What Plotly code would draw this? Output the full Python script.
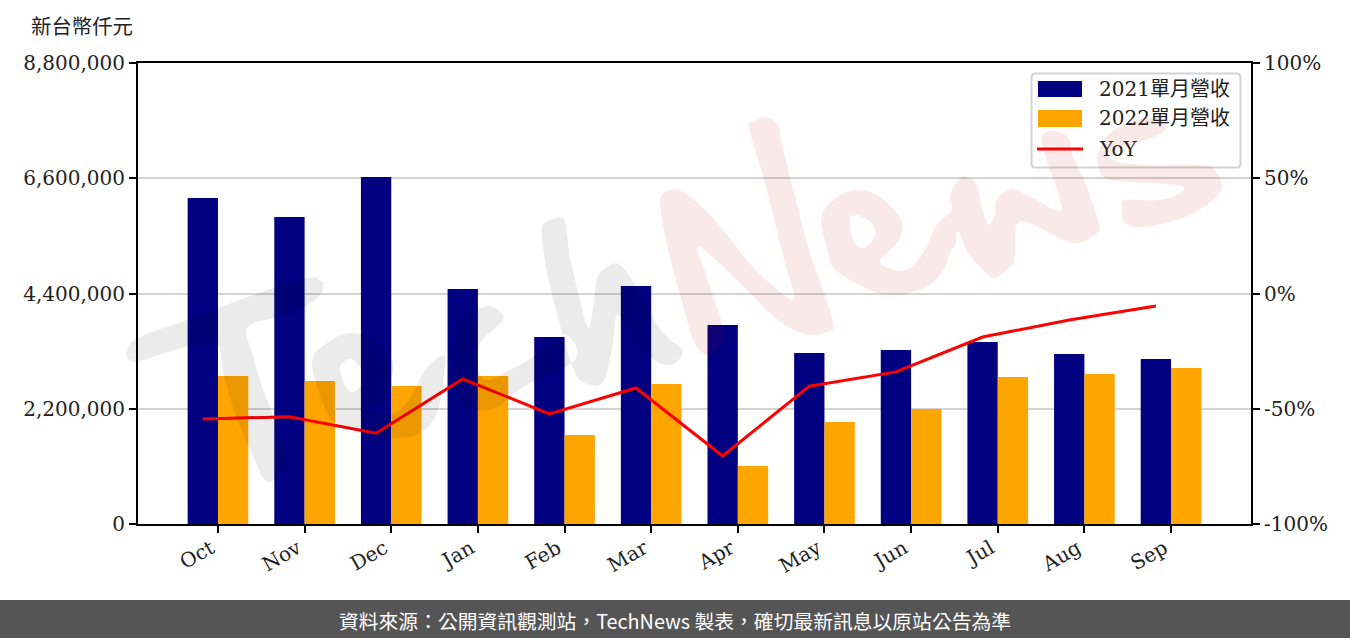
import plotly.graph_objects as go

W, H = 1350, 638
PLOT_L, PLOT_R, PLOT_T, PLOT_B = 138, 1251, 63, 524

months = ['Oct', 'Nov', 'Dec', 'Jan', 'Feb', 'Mar', 'Apr', 'May', 'Jun', 'Jul', 'Aug', 'Sep']
rev_2021 = [6223000, 5860000, 6624000, 4486000, 3570000, 4543000, 3799000, 3264000, 3322000, 3474000, 3245000, 3150000]
rev_2022 = [2825000, 2730000, 2634000, 2825000, 1699000, 2672000, 1107000, 1947000, 2195000, 2806000, 2863000, 2978000]
yoy = [-54.4, -53.5, -60.6, -37.1, -52.2, -41.0, -70.5, -40.2, -34.0, -18.9, -11.5, -5.4]

left_ticks = [0, 2200000, 4400000, 6600000, 8800000]
right_ticks = [-100, -50, 0, 50, 100]
right_labels = ['-100%', '-50%', '0%', '50%', '100%']

SERIF = '"DejaVu Serif", "Noto Sans CJK TC"'
BAR_W = 0.35


def px(x):
    return (x - PLOT_L) / (PLOT_R - PLOT_L)


def py(y):
    return (PLOT_B - y) / (PLOT_B - PLOT_T)


def smooth(points):
    # closed catmull-rom through pixel points, as an svg path in paper coords
    n = len(points)
    out = 'M%.5f,%.5f' % (px(points[0][0]), py(points[0][1]))
    for i in range(n):
        p0, p1, p2, p3 = points[i - 1], points[i], points[(i + 1) % n], points[(i + 2) % n]
        c1 = (p1[0] + (p2[0] - p0[0]) / 6, p1[1] + (p2[1] - p0[1]) / 6)
        c2 = (p2[0] - (p3[0] - p1[0]) / 6, p2[1] - (p3[1] - p1[1]) / 6)
        out += 'C%.5f,%.5f %.5f,%.5f %.5f,%.5f' % (px(c1[0]), py(c1[1]), px(c2[0]), py(c2[1]), px(p2[0]), py(p2[1]))
    return out + 'Z'


def zoomed(points, ox, oy):
    return [(ox + a / 3, oy + b / 3) for a, b in points]


# watermark outlines
wm_T = zoomed([(20, 460), (50, 415), (200, 360), (400, 285), (560, 235), (600, 240), (610, 265), (585, 300), (500, 345),
               (385, 380), (400, 470), (430, 570), (480, 700), (497, 790), (490, 815), (440, 845), (400, 770), (345, 640),
               (310, 520), (290, 430), (200, 440), (60, 482), (30, 480)], 120, 200)
wm_e = [(312, 363), (327, 343), (350, 333), (373, 340), (390, 357), (393, 370), (385, 395), (372, 412), (395, 413), (412, 395),
        (425, 370), (443, 355), (445, 367), (437, 413), (420, 433), (400, 438), (370, 435), (345, 428), (327, 413)]
wm_e_hole = [(345, 385), (353, 392), (362, 383), (360, 367), (350, 359), (340, 367)]
wm_c = [(483, 307), (495, 308), (503, 320), (480, 343), (478, 367), (487, 380), (510, 370), (533, 357), (565, 335), (575, 360),
        (523, 387), (497, 407), (477, 410), (457, 397), (452, 377), (455, 343), (465, 318)]
wm_h = zoomed([(425, 115), (440, 95), (470, 85), (495, 95), (510, 200), (540, 330), (565, 415), (580, 350), (590, 270), (610, 240),
               (650, 220), (690, 260), (750, 370), (800, 440), (848, 480), (825, 520), (780, 520), (720, 470), (655, 375),
               (640, 450), (625, 530), (600, 585), (540, 570), (510, 510), (490, 440), (450, 290), (430, 180)], 400, 190)
wm_N = zoomed([(35, 255), (85, 240), (150, 285), (220, 360), (290, 450), (360, 520), (432, 567), (400, 440), (340, 200), (298, 55),
               (320, 30), (350, 23), (385, 45), (395, 100), (430, 240), (480, 430), (530, 570), (550, 640), (545, 660), (490, 675),
               (430, 660), (360, 610), (280, 530), (148, 410), (170, 500), (220, 660), (195, 725), (160, 730), (130, 690),
               (100, 590), (60, 440), (35, 320)], 650, 110)
wm_ew = (zoomed([(515, 320), (530, 290), (580, 250), (630, 240), (690, 260), (740, 310), (758, 350), (740, 400), (690, 455),
                 (745, 482), (790, 465), (830, 410), (860, 345), (905, 300), (900, 260), (925, 210), (950, 200), (980, 225),
                 (1000, 310), (1018, 345), (1035, 310), (1040, 270)], 650, 110)
         + zoomed([(215, 238), (280, 265), (365, 300), (320, 150), (305, 80), (345, 62), (385, 85), (400, 140), (440, 230),
                   (478, 345), (470, 370), (420, 398), (370, 390), (240, 335), (225, 440), (210, 470), (165, 503), (130, 480),
                   (85, 430), (55, 365), (45, 410)], 940, 110)
         + zoomed([(903, 420), (880, 480), (830, 530), (740, 555), (660, 540), (555, 478), (530, 410), (515, 350)], 650, 110))
wm_ew_hole = zoomed([(612, 395), (640, 413), (675, 380), (665, 340), (625, 316), (600, 330)], 650, 110)
wm_s = zoomed([(445, 340), (470, 290), (530, 250), (600, 232), (640, 245), (645, 270), (600, 295), (520, 320), (480, 345), (500, 365),
               (600, 375), (700, 375), (780, 380), (815, 430), (800, 470), (720, 525), (620, 555), (550, 560), (520, 540),
               (515, 500), (525, 480), (620, 480), (680, 465), (700, 440), (620, 430), (520, 425), (465, 415), (445, 380)], 950, 40)

x_pos = list(range(len(months)))
line_x = [i - BAR_W / 2 for i in x_pos]

fig = go.Figure()
fig.add_trace(go.Bar(name='2021單月營收', x=x_pos, y=rev_2021, marker=dict(color='#000080', line_width=0)))
fig.add_trace(go.Bar(name='2022單月營收', x=x_pos, y=rev_2022, marker=dict(color='#FFA500', line_width=0)))
fig.add_trace(go.Scatter(name='YoY', x=line_x, y=yoy, mode='lines', yaxis='y2', line=dict(color='#FF0000', width=3)))


def paper_rect(x0, y0, x1, y1, **kw):
    return dict(type='rect', xref='paper', yref='paper', x0=px(x0), x1=px(x1), y0=py(y0), y1=py(y1), layer='above', **kw)


shapes = [
    # bottom source band
    paper_rect(0, 600, W, H, fillcolor='#555555', line_width=0),
]

# legend box with rounded corners
bx0, bx1, by0, by1, r = 1031.5, 1240.5, 73.5, 167.5, 4
box = 'M%.5f,%.5f' % (px(bx0 + r), py(by0))
box += 'L%.5f,%.5f' % (px(bx1 - r), py(by0)) + 'Q%.5f,%.5f %.5f,%.5f' % (px(bx1), py(by0), px(bx1), py(by0 + r))
box += 'L%.5f,%.5f' % (px(bx1), py(by1 - r)) + 'Q%.5f,%.5f %.5f,%.5f' % (px(bx1), py(by1), px(bx1 - r), py(by1))
box += 'L%.5f,%.5f' % (px(bx0 + r), py(by1)) + 'Q%.5f,%.5f %.5f,%.5f' % (px(bx0), py(by1), px(bx0), py(by1 - r))
box += 'L%.5f,%.5f' % (px(bx0), py(by0 + r)) + 'Q%.5f,%.5f %.5f,%.5f' % (px(bx0), py(by0), px(bx0 + r), py(by0)) + 'Z'
shapes.append(dict(type='path', xref='paper', yref='paper', path=box, layer='above',
                   fillcolor='rgba(255,255,255,0.8)', line=dict(color='#D3D3D3', width=2)))
shapes.append(paper_rect(1038, 81, 1082, 97, fillcolor='#000080', line_width=0))
shapes.append(paper_rect(1038, 110, 1082, 127, fillcolor='#FFA500', line_width=0))
shapes.append(paper_rect(1037, 147.5, 1083, 150.5, fillcolor='#FF0000', line_width=0))

# watermark sits over the bars
gray_path = ' '.join(smooth(p) for p in [wm_T, wm_e, wm_e_hole, wm_c, wm_h])
pink_path = ' '.join(smooth(p) for p in [wm_N, wm_ew, wm_ew_hole, wm_s])
shapes.append(dict(type='path', xref='paper', yref='paper', path=gray_path, layer='above',
                   fillcolor='rgba(0,0,0,0.08)', line_width=0))
shapes.append(dict(type='path', xref='paper', yref='paper', path=pink_path, layer='above',
                   fillcolor='rgba(195,0,0,0.085)', line_width=0))


def note(text, x, y, size=20, color='#222222', anchor='left', family=SERIF):
    return dict(text=text, xref='paper', yref='paper', x=px(x), y=py(y), xanchor=anchor, yanchor='middle',
                showarrow=False, font=dict(family=family, size=size, color=color))


annotations = [
    note('新台幣仟元', 29, 27, size=20.4),
    note('2021單月營收', 1097, 89),
    note('2022單月營收', 1097, 118),
    note('YoY', 1097, 149),
    note('資料來源：公開資訊觀測站，TechNews 製表，確切最新訊息以原站公告為準', 675, 620, size=19.8, color='#FFFFFF',
         anchor='center', family='"Noto Sans CJK TC"'),
]

axis_common = dict(ticks='outside', ticklen=7, tickwidth=2, tickcolor='#000000', showline=True, linecolor='#000000', linewidth=2,
                   tickfont=dict(family=SERIF, size=20, color='#222222'))

fig.update_layout(
    width=W, height=H,
    margin=dict(l=PLOT_L, r=W - PLOT_R, t=PLOT_T, b=H - PLOT_B, pad=0),
    paper_bgcolor='#FFFFFF', plot_bgcolor='#FFFFFF',
    barmode='group', bargap=1 - 2 * BAR_W, bargroupgap=0,
    showlegend=False,
    xaxis=dict(range=[-0.923, 11.923], tickmode='array', tickvals=x_pos, ticktext=months, tickangle=-30, mirror=True,
               ticklabelshift=-7, ticklabelstandoff=-4, showgrid=False, zeroline=False, **axis_common),
    yaxis=dict(range=[0, 8800000], tickmode='array', tickvals=left_ticks, tickformat=',d', showgrid=True, gridcolor='#D3D3D3',
               gridwidth=2, zeroline=False, **axis_common),
    yaxis2=dict(range=[-100, 100], tickmode='array', tickvals=right_ticks, ticktext=right_labels, overlaying='y', side='right',
                showgrid=False, zeroline=False, **axis_common),
    shapes=shapes,
    annotations=annotations,
)

fig.write_html('out.html', config={'displayModeBar': False},
               post_script="document.body.style.margin='0';document.documentElement.lang='zh-TW';")
